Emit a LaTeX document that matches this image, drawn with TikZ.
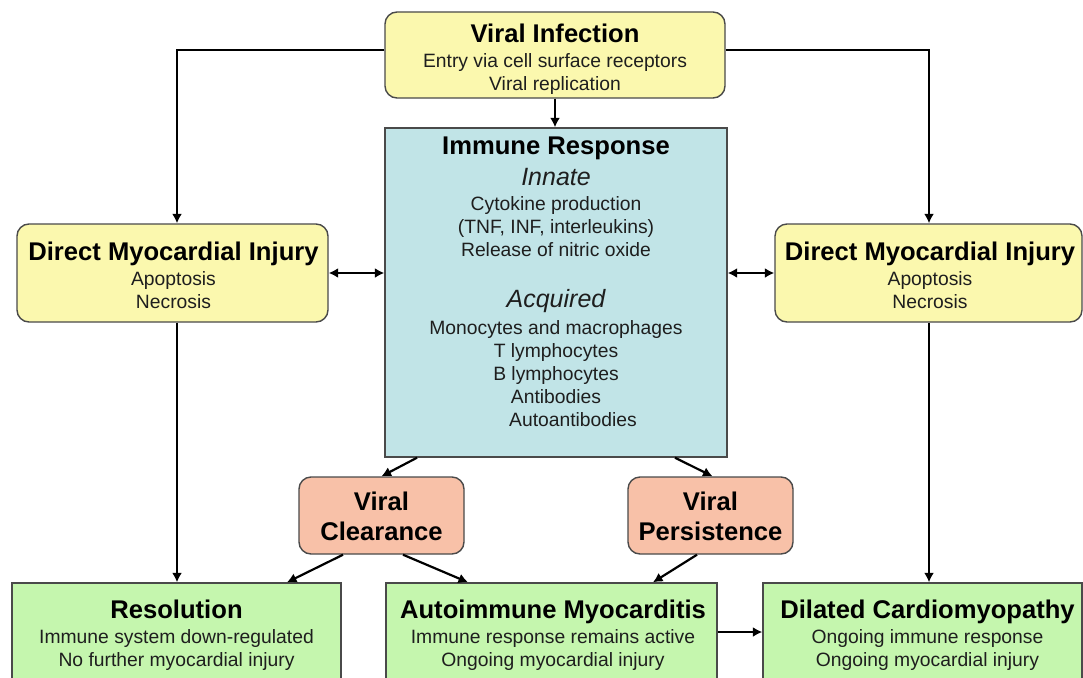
\documentclass[tikz,border=0pt]{standalone}
\usepackage{fontspec}
\setmainfont{Liberation Sans}
\usetikzlibrary{arrows.meta}
\definecolor{yfill}{HTML}{FBF8AE}
\definecolor{bfill}{HTML}{C1E4E7}
\definecolor{sfill}{HTML}{F8C1A8}
\definecolor{gfill}{HTML}{C5F6AE}
\definecolor{edgegray}{HTML}{4A4A4A}
\definecolor{bodytext}{HTML}{1E1E1E}
\newcommand\boxtitle[1]{{\fontsize{25.6}{23}\selectfont\bfseries\color{black}#1}}
\newcommand\boxsub[1]{{\fontsize{25}{23}\selectfont\itshape #1}}
\begin{document}
\begin{tikzpicture}[x=1pt,y=-1pt,
  box/.style={draw=edgegray, line width=1.4pt, inner sep=0pt},
  ybox/.style={box, fill=yfill, rounded corners=12pt},
  bbox/.style={box, fill=bfill},
  sbox/.style={box, fill=sfill, rounded corners=12pt},
  gbox/.style={box, fill=gfill},
  txt/.style={anchor=north, align=center, inner sep=0pt, font=\fontsize{19.3}{23}\selectfont, text=bodytext},
  arr/.style={line width=2.2pt, -{Latex[length=9.5pt,width=10pt]}},
  darr/.style={line width=2.2pt, {Latex[length=9.5pt,width=10pt]}-{Latex[length=9.5pt,width=10pt]}}
]
\useasboundingbox (0,0) rectangle (1083,677);
\clip (0,0) rectangle (1083,677);
\fill[white] (0,0) rectangle (1083,677);

% boxes
\node[ybox, minimum width=340pt, minimum height=86pt] (vi) at (555,55) {};
\node[bbox, minimum width=342pt, minimum height=329pt] (imm) at (556,292.5) {};
\node[ybox, minimum width=311pt, minimum height=98pt] (dmiL) at (172.5,273) {};
\node[ybox, minimum width=307pt, minimum height=98pt] (dmiR) at (928.5,273) {};
\node[sbox, minimum width=165pt, minimum height=77pt] (vc) at (381.5,515.5) {};
\node[sbox, minimum width=165pt, minimum height=77pt] (vp) at (710.5,515.5) {};
\node[gbox, minimum width=329pt, minimum height=98pt] (res) at (176.5,632) {};
\node[gbox, minimum width=331pt, minimum height=98pt] (auto) at (551.5,632) {};
\node[gbox, minimum width=319pt, minimum height=98pt] (dil) at (922.5,632) {};

% texts
\node[txt] (vit) at (555,23.4) {\boxtitle{Viral Infection}\\[2pt]Entry via cell surface receptors\\Viral replication};
\node[txt] (dmiLt) at (173.5,241.4) {\boxtitle{Direct Myocardial Injury}\\[2pt]Apoptosis\\Necrosis};
\node[txt] (dmiRt) at (930,241.4) {\boxtitle{Direct Myocardial Injury}\\[2pt]Apoptosis\\Necrosis};
\node[txt] (immt) at (556,136.4) {\boxtitle{Immune Response}\\[8pt]\boxsub{Innate}\\[2pt]Cytokine production\\(TNF, INF, interleukins)\\Release of nitric oxide\\[28pt]\boxsub{Acquired}\\[4pt]Monocytes and macrophages\\T lymphocytes\\B lymphocytes\\Antibodies\\\hspace*{34pt}Autoantibodies};
\node[txt] (vct) at (381.5,491.4) {\boxtitle{Viral}\\[7pt]\boxtitle{Clearance}};
\node[txt] (vpt) at (710.5,491.4) {\boxtitle{Viral}\\[7pt]\boxtitle{Persistence}};
\node[txt] (rest) at (176.5,599.4) {\boxtitle{Resolution}\\[2pt]Immune system down-regulated\\No further myocardial injury};
\node[txt] (autot) at (553,599.4) {\boxtitle{Autoimmune Myocarditis}\\[2pt]Immune response remains active\\Ongoing myocardial injury};
\node[txt] (dilt) at (927.5,599.4) {\boxtitle{Dilated Cardiomyopathy}\\[2pt]Ongoing immune response\\Ongoing myocardial injury};

% connectors
\draw[arr] ([yshift=5pt]vi.west) -| ([xshift=4.5pt]dmiL.north);
\draw[arr] ([yshift=5pt]vi.east) -| ([xshift=0.5pt]dmiR.north);
\draw[arr] (vi.south) -- (vi.south |- imm.north);
\draw[darr] (dmiL.east) -- (dmiL.east -| imm.west);
\draw[darr] (imm.east |- dmiR.west) -- (dmiR.west);
\draw[arr] ([xshift=4.5pt]dmiL.south) -- ([xshift=4.5pt]dmiL.south |- res.north);
\draw[arr] ([xshift=0.5pt]dmiR.south) -- ([xshift=0.5pt]dmiR.south |- dil.north);
\draw[arr] ([xshift=-139pt]imm.south) -- (vc.north);
\draw[arr] ([xshift=119pt]imm.south) -- ([xshift=2pt]vp.north);
\draw[arr] ([xshift=-38.5pt]vc.south) -- ([xshift=110.5pt]res.north);
\draw[arr] ([xshift=21.5pt]vc.south) -- ([xshift=-83.5pt]auto.north);
\draw[arr] ([xshift=-13.5pt]vp.south) -- ([xshift=101.5pt]auto.north);
\draw[arr] (auto.east) -- (auto.east -| dil.west);
\end{tikzpicture}
\end{document}
